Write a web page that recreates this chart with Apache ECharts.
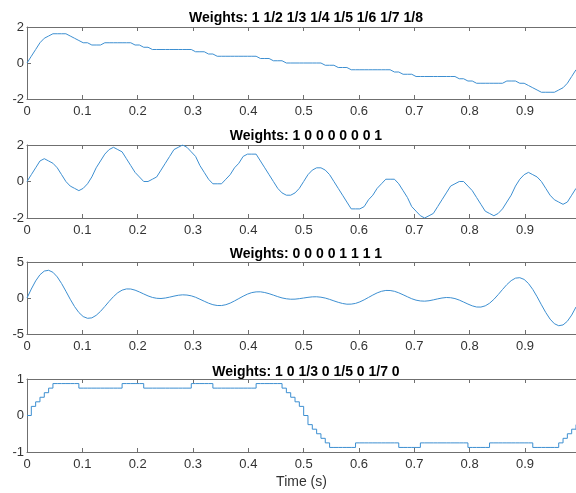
<!DOCTYPE html>
<html>
<head>
<meta charset="utf-8">
<script src="https://cdn.jsdelivr.net/npm/echarts@6/dist/echarts.min.js"></script>
<style>
html,body{margin:0;padding:0;background:#fff;}
#main{width:576px;height:493px;}
</style>
</head>
<body>
<div id="main"></div>
<script>
// panel titles
var titles = ['Weights: 1 1/2 1/3 1/4 1/5 1/6 1/7 1/8', 'Weights: 1 0 0 0 0 0 0 1', 'Weights: 0 0 0 0 1 1 1 1', 'Weights: 1 0 1/3 0 1/5 0 1/7 0'];
var xTicks = ['0', '0.1', '0.2', '0.3', '0.4', '0.5', '0.6', '0.7', '0.8', '0.9'];
var yRanges = [[-2, 2, 2], [-2, 2, 2], [-5, 5, 5], [-1, 1, 1]];
var stepped = [false, false, false, true];
var dt = 1 / 128; // sample spacing (s)

// samples, one per 1/128 s
var y1 = [0, .375, .75, 1.125, 1.375, 1.5, 1.625, 1.625, 1.625, 1.625, 1.5, 1.375, 1.25, 1.125, 1.125, 1, 1, 1, 1.125, 1.125,
  1.125, 1.125, 1.125, 1.125, 1.125, 1, 1, .875, .875, .75, .75, .75, .75, .75, .75, .75, .75, .75, .75, .625,
  .625, .625, .5, .5, .375, .375, .375, .375, .375, .375, .375, .375, .375, .375, .25, .25, .25, .125, .125, .125,
  0, 0, 0, 0, 0, 0, 0, 0, 0, -.125, -.125, -.125, -.25, -.25, -.25, -.375, -.375, -.375, -.375, -.375,
  -.375, -.375, -.375, -.375, -.375, -.5, -.5, -.625, -.625, -.625, -.75, -.75, -.75, -.75, -.75, -.75, -.75, -.75, -.75, -.75,
  -.875, -.875, -1, -1, -1.125, -1.125, -1.125, -1.125, -1.125, -1.125, -1.125, -1, -1, -1, -1.125, -1.125, -1.25, -1.375, -1.5, -1.625,
  -1.625, -1.625, -1.625, -1.5, -1.375, -1.125, -.75, -.375];
var y2 = [0, .375, .75, 1.125, 1.25, 1.125, 1, .75, .375, 0, -.25, -.375, -.5, -.375, -.125, .25, .75, 1.125, 1.5, 1.75,
  1.875, 1.75, 1.625, 1.25, .875, .5, .25, 0, 0, .125, .25, .625, 1, 1.375, 1.75, 1.875, 2, 1.875, 1.625, 1.375,
  .875, .5, .125, -.125, -.125, -.125, .125, .375, .75, 1, 1.375, 1.5, 1.5, 1.5, 1.125, .75, .375, 0, -.375, -.625,
  -.75, -.75, -.625, -.375, 0, .375, .625, .75, .75, .625, .375, 0, -.375, -.75, -1.125, -1.5, -1.5, -1.5, -1.375, -1,
  -.75, -.375, -.125, .125, .125, .125, -.125, -.5, -.875, -1.375, -1.625, -1.875, -2, -1.875, -1.75, -1.375, -1, -.625, -.25, -.125,
  0, 0, -.25, -.5, -.875, -1.25, -1.625, -1.75, -1.875, -1.75, -1.5, -1.125, -.75, -.25, .125, .375, .5, .375, .25, 0,
  -.375, -.75, -1, -1.125, -1.25, -1.125, -.75, -.375];
var y3 = [0, 1.25, 2.37, 3.23, 3.74, 3.85, 3.57, 2.93, 2.01, .94, -.17, -1.19, -2.02, -2.58, -2.82, -2.76, -2.41, -1.86, -1.18, -.47,
  .19, .73, 1.09, 1.26, 1.25, 1.09, .84, .56, .29, .08, -.04, -.07, 0, .12, .26, .38, .44, .41, .3, .1,
  -.17, -.45, -.72, -.93, -1.04, -1.05, -.93, -.71, -.41, -.08, .25, .54, .75, .85, .86, .76, .6, .4, .19, .01,
  -.11, -.17, -.16, -.09, 0, .09, .16, .17, .11, -.01, -.19, -.4, -.6, -.76, -.86, -.85, -.75, -.54, -.25, .08,
  .41, .71, .93, 1.05, 1.04, .93, .72, .45, .17, -.1, -.3, -.41, -.44, -.38, -.26, -.12, 0, .07, .04, -.08,
  -.29, -.56, -.84, -1.09, -1.25, -1.26, -1.09, -.73, -.19, .47, 1.18, 1.86, 2.41, 2.76, 2.82, 2.58, 2.02, 1.19, .17, -.94,
  -2.01, -2.93, -3.57, -3.85, -3.74, -3.23, -2.37, -1.25];
var y4 = [0, .25, .375, .5, .625, .75, .875, .875, .875, .875, .875, .875, .75, .75, .75, .75, .75, .75, .75, .75,
  .75, .75, .875, .875, .875, .875, .875, .75, .75, .75, .75, .75, .75, .75, .75, .75, .75, .75, .875, .875,
  .875, .875, .875, .75, .75, .75, .75, .75, .75, .75, .75, .75, .75, .875, .875, .875, .875, .875, .875, .75,
  .625, .5, .375, .25, 0, -.25, -.375, -.5, -.625, -.75, -.875, -.875, -.875, -.875, -.875, -.875, -.75, -.75, -.75, -.75,
  -.75, -.75, -.75, -.75, -.75, -.75, -.875, -.875, -.875, -.875, -.875, -.75, -.75, -.75, -.75, -.75, -.75, -.75, -.75, -.75,
  -.75, -.75, -.875, -.875, -.875, -.875, -.875, -.75, -.75, -.75, -.75, -.75, -.75, -.75, -.75, -.75, -.75, -.875, -.875, -.875,
  -.875, -.875, -.875, -.75, -.625, -.5, -.375, -.25];
var allY = [y1, y2, y3, y4];

var chart = echarts.init(document.getElementById('main'));
var gridTops = [27, 145, 262, 379];
var gridH = [72, 73, 72, 73];
var titleTops = [6, 124, 242, 360];
var axisColor = '#6f6f6f';
var textColor = '#333';
var fontFam = 'Liberation Sans, Arial, sans-serif';

var grids = [], xAxes = [], yAxes = [], series = [], titleArr = [];
for (var p = 0; p < 4; p++) {
    grids.push({left: 27, width: 549, top: gridTops[p], height: gridH[p]});
    titleArr.push({
        text: titles[p], left: 301, top: titleTops[p], textAlign: 'center',
        textStyle: {fontFamily: fontFam, fontSize: 14, fontWeight: 'bold', color: '#000'}
    });
    // bottom x axis with labels
    xAxes.push({
        type: 'value', gridIndex: p, min: 0, max: 127 / 128, interval: 0.1,
        axisLine: {onZero: false, lineStyle: {color: axisColor, width: 1}},
        axisTick: {inside: true, length: 4, lineStyle: {color: axisColor}},
        axisLabel: {
            color: textColor, fontFamily: fontFam, fontSize: 13, margin: 6,
            showMaxLabel: false,
            formatter: function (v) { var i = Math.round(v * 10); return xTicks[i] || ''; }
        },
        splitLine: {show: false},
        name: p == 3 ? 'Time (s)' : '', nameLocation: 'middle', nameGap: 23,
        nameTextStyle: {color: textColor, fontFamily: fontFam, fontSize: 14}
    });
    // top box edge with ticks
    xAxes.push({
        type: 'value', gridIndex: p, position: 'top', min: 0, max: 127 / 128, interval: 0.1,
        axisLine: {onZero: false, lineStyle: {color: axisColor, width: 1}},
        axisTick: {inside: true, length: 4, lineStyle: {color: axisColor}},
        axisLabel: {show: false}, splitLine: {show: false}
    });
    var r = yRanges[p];
    yAxes.push({
        type: 'value', gridIndex: p, min: r[0], max: r[1], interval: r[2],
        axisLine: {show: true, onZero: false, lineStyle: {color: axisColor, width: 1}},
        axisTick: {show: true, inside: true, length: 4, lineStyle: {color: axisColor}},
        axisLabel: {color: textColor, fontFamily: fontFam, fontSize: 13, margin: 3},
        splitLine: {show: false}
    });
    var pts = [];
    for (var k = 0; k < allY[p].length; k++) pts.push([k * dt, allY[p][k]]);
    series.push({
        type: 'line', xAxisIndex: p * 2, yAxisIndex: p, data: pts,
        step: stepped[p] ? 'end' : false, showSymbol: false, silent: true,
        lineStyle: {color: '#3d8fd1', width: 1}
    });
}

chart.setOption({
    animation: false,
    backgroundColor: '#fff',
    title: titleArr,
    grid: grids,
    xAxis: xAxes,
    yAxis: yAxes,
    series: series
});
</script>
</body>
</html>
